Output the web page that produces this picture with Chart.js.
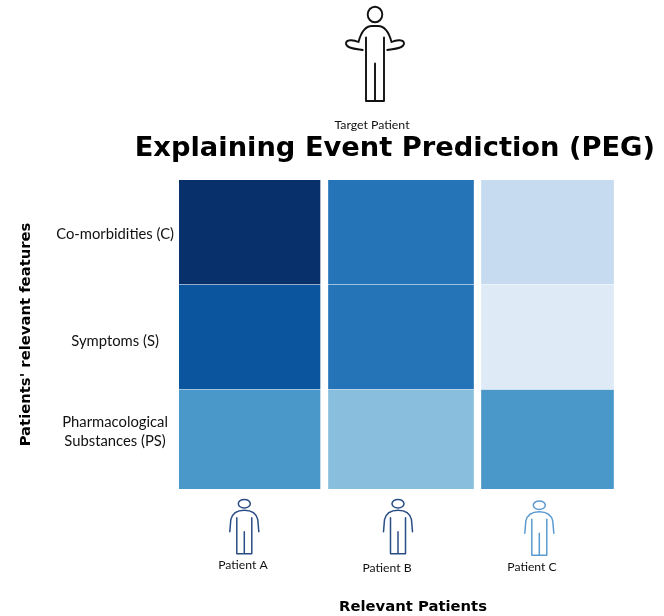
<!DOCTYPE html>
<html>
<head>
<meta charset="utf-8">
<title>Explaining Event Prediction (PEG)</title>
<script src="https://cdn.jsdelivr.net/npm/chart.js@4"></script>
<style>
  html, body { margin: 0; padding: 0; background: #fff; }
  canvas { display: block; }
</style>
</head>
<body>
<canvas id="chart" width="664" height="616"></canvas>
<script>
// data
const patients = ['Patient A', 'Patient B', 'Patient C'];
const features = ['Co-morbidities (C)', 'Symptoms (S)', ['Pharmacological', 'Substances (PS)']];
const patientA = [1.0, 0.85, 0.55];
const patientB = [0.7, 0.7, 0.4];
const patientC = [0.25, 0.125, 0.55];

// colour ramp for the cell values
const rampStops = [0.125, 0.25, 0.4, 0.55, 0.7, 0.85, 1.0];
const rampColors = ['#deebf7', '#c6dbef', '#89bedc', '#4a98c9', '#2474b7', '#0b559f', '#08306b'];

// layout, in scale units (1 unit = 1 px here, the cells are not evenly sized)
const columnCentres = [70.5, 222, 368.5];
const columnWidths = [141, 145, 132];
const rowSpans = [[0, 104], [105, 209], [210, 309]];
const patientTicks = [64, 208, 353];
const featureTicks = [54.5, 161, 251.5];
const patientTickLineHeights = ['14px', '20px', '18px'];

const labelFont = 'Lato';
const headingFont = 'DejaVu Sans';

function colorFor(value) {
  return rampColors[rampStops.indexOf(value)];
}

function buildDataset(values, col) {
  return {
    data: values.map((v, row) => ({ x: columnCentres[col], y: rowSpans[row] })),
    backgroundColor: values.map(colorFor),
    barThickness: columnWidths[col],
    stack: 'cells'
  };
}

// person icon, outline
function drawPerson(ctx, x, y, color, width, hands) {
  ctx.save();
  ctx.translate(x, y);
  ctx.strokeStyle = color;
  ctx.lineWidth = width;
  ctx.lineJoin = 'round';
  ctx.lineCap = 'round';

  ctx.beginPath();
  if (hands) ctx.ellipse(0, 0, 7.3, 7.8, 0, 0, Math.PI * 2);
  else ctx.ellipse(0, 0, 6, 4.3, 0, 0, Math.PI * 2);
  ctx.stroke();

  ctx.beginPath();
  if (hands) {
    ctx.moveTo(-12.3, 35.5);
    ctx.bezierCurveTo(-18, 34.5, -29, 34, -29, 29);
    ctx.bezierCurveTo(-29, 25, -22, 25, -16.5, 27.5);
    ctx.bezierCurveTo(-14, 18, -10, 11.5, -3, 11.5);
    ctx.lineTo(3, 11.5);
    ctx.bezierCurveTo(10, 11.5, 14, 18, 16.5, 27.5);
    ctx.bezierCurveTo(22, 25, 29, 25, 29, 29);
    ctx.bezierCurveTo(29, 34, 18, 34.5, 12.3, 35.5);
    ctx.moveTo(-9, 23);
    ctx.lineTo(-9, 86.5);
    ctx.lineTo(9, 86.5);
    ctx.lineTo(9, 23);
    ctx.moveTo(0, 49);
    ctx.lineTo(0, 86.5);
  } else {
    ctx.moveTo(-14.5, 28);
    ctx.lineTo(-13.5, 16);
    ctx.bezierCurveTo(-12, 9, -6, 6.5, 0, 6.5);
    ctx.bezierCurveTo(6, 6.5, 12, 9, 13.5, 16);
    ctx.lineTo(14.5, 28);
    ctx.moveTo(-7.5, 14);
    ctx.lineTo(-7.5, 50);
    ctx.lineTo(7.5, 50);
    ctx.lineTo(7.5, 14);
    ctx.moveTo(0, 28);
    ctx.lineTo(0, 50);
  }
  ctx.stroke();
  ctx.restore();
}

// icons and the target caption around the heatmap
const figuresPlugin = {
  id: 'figures',
  afterDraw(chart) {
    const ctx = chart.ctx;
    const xScale = chart.scales.x;
    drawPerson(ctx, 375, 14.5, '#111111', 1.9, true);
    drawPerson(ctx, xScale.getPixelForValue(65.3), 503.7, '#2a4d85', 1.5, false);
    drawPerson(ctx, xScale.getPixelForValue(219), 503.7, '#2a4d85', 1.5, false);
    drawPerson(ctx, xScale.getPixelForValue(360.3), 505.2, '#5b9bd0', 1.5, false);

    ctx.save();
    ctx.textAlign = 'center';
    ctx.textBaseline = 'middle';
    ctx.fillStyle = '#111111';
    ctx.font = '12.3px ' + labelFont;
    ctx.fillText('Target Patient', 372, 125);
    ctx.restore();
  }
};

new Chart(document.getElementById('chart').getContext('2d'), {
  type: 'bar',
  data: {
    datasets: [
      buildDataset(patientA, 0),
      buildDataset(patientB, 1),
      buildDataset(patientC, 2)
    ]
  },
  plugins: [figuresPlugin],
  options: {
    responsive: false,
    animation: false,
    layout: { autoPadding: false, padding: { right: 9 } },
    plugins: {
      legend: { display: false },
      tooltip: { enabled: false },
      title: {
        display: true,
        text: 'Explaining Event Prediction (PEG)',
        align: 'end',
        color: '#000000',
        font: { family: headingFont, size: 27.3, weight: 'bold', lineHeight: 1.2 },
        padding: { top: 133, bottom: 14.2 }
      }
    },
    scales: {
      x: {
        type: 'linear',
        offset: false,
        min: 0,
        max: 468,
        grid: { display: false },
        border: { display: false },
        afterFit(scale) { scale.height = 127; },
        afterBuildTicks(scale) { scale.ticks = patientTicks.map(v => ({ value: v })); },
        title: {
          display: true,
          text: 'Relevant Patients',
          color: '#000000',
          font: { family: headingFont, size: 14.8, weight: 'bold', lineHeight: 1.2 },
          padding: { top: 1, bottom: 0 }
        },
        ticks: {
          autoSkip: false,
          maxRotation: 0,
          padding: 61,
          color: '#111111',
          font: ctx => ({ family: labelFont, size: 12.2, lineHeight: patientTickLineHeights[ctx.index] }),
          callback: (v, i) => patients[i]
        }
      },
      y: {
        type: 'linear',
        reverse: true,
        stacked: false,
        min: 0,
        max: 309,
        grid: { display: false },
        border: { display: false },
        afterFit(scale) { scale.width = 179; },
        afterBuildTicks(scale) { scale.ticks = featureTicks.map(v => ({ value: v })); },
        title: {
          display: true,
          text: "Patients' relevant features",
          color: '#000000',
          font: { family: headingFont, size: 14.8, weight: 'bold', lineHeight: 1.2 },
          padding: { top: 17.5, bottom: 0 }
        },
        ticks: {
          autoSkip: false,
          padding: -3,
          crossAlign: 'center',
          color: '#111111',
          font: { family: labelFont, size: 14.8, lineHeight: 1.3 },
          callback: (v, i) => features[i]
        }
      },
      // empty axis, keeps the x title centred where it is in the picture
      rightGap: {
        type: 'linear',
        position: 'right',
        grid: { display: false },
        border: { display: false },
        ticks: { display: false },
        afterFit(scale) { scale.width = 8; }
      }
    }
  }
});
</script>
</body>
</html>
